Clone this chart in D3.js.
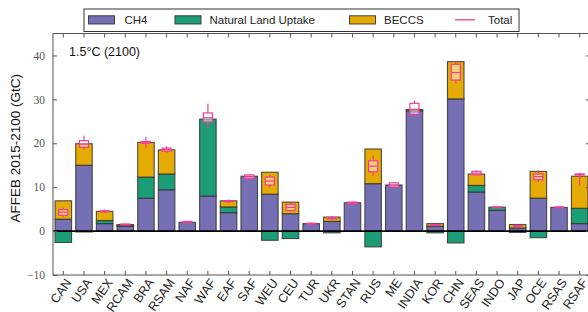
<!DOCTYPE html>
<html>
<head>
<meta charset="utf-8">
<script src="https://cdn.jsdelivr.net/npm/d3@7"></script>
<style>
  body { margin: 0; background: #fff; }
  svg { display: block; }
</style>
</head>
<body>
<div id="chart"></div>
<script>
const regions = ["CAN", "USA", "MEX", "RCAM", "BRA", "RSAM", "NAF", "WAF", "EAF", "SAF", "WEU", "CEU", "TUR",
  "UKR", "STAN", "RUS", "ME", "INDIA", "KOR", "CHN", "SEAS", "INDO", "JAP", "OCE", "RSAS", "RSAF"];
const ch4 = [2.7, 15.0, 1.7, 1.1, 7.5, 9.4, 2.0, 8.0, 4.2, 12.5, 8.4, 3.95, 1.7,
  2.2, 6.45, 10.8, 10.5, 27.4, 1.1, 30.1, 8.9, 4.7, 0.7, 7.5, 5.4, 1.7];
const landUptake = [-2.6, -0.2, 0.7, 0.1, 4.8, 3.6, 0, 17.5, 1.3, 0, -2.1, -1.7, 0,
  -0.4, 0, -3.6, 0, 0, -0.4, -2.7, 1.5, 0.75, -0.3, -1.5, 0, 3.5];
const beccs = [4.2, 4.9, 2.1, 0.3, 7.9, 5.5, 0, 0, 1.4, 0, 5.0, 2.65, 0,
  1.0, 0, 7.9, 0, 0.3, 0.6, 8.5, 2.6, 0, 0.8, 6.1, 0, 7.3];
// Total: spread over runs (median, quartiles, whiskers)
const totalMed = [4.3, 19.8, 4.5, 1.5, 20.2, 18.6, 2.1, 25.8, 6.8, 12.4, 11.4, 5.4, 1.7,
  3.0, 6.4, 14.8, 10.5, 27.7, 1.4, 36.1, 13.2, 5.4, 1.2, 12.4, 5.4, 12.9];
const totalQ1 = [3.6, 19.1, 4.4, 1.4, 20.0, 18.2, 2.0, 24.8, 6.7, 11.9, 10.5, 4.7, 1.6,
  2.8, 6.2, 13.5, 10.0, 26.5, 1.3, 34.4, 12.8, 5.3, 1.1, 11.7, 5.3, 12.8];
const totalQ3 = [4.9, 20.6, 4.6, 1.6, 20.4, 18.9, 2.2, 26.9, 6.9, 12.8, 12.3, 6.1, 1.8,
  3.1, 6.6, 16.0, 11.0, 29.1, 1.5, 38.0, 13.6, 5.5, 1.3, 13.0, 5.5, 13.0];
const totalLo = [3.3, 18.6, 4.2, 1.3, 19.0, 17.9, 1.9, 23.3, 6.4, 11.8, 10.0, 4.5, 1.5,
  2.6, 6.1, 12.6, 9.8, 26.1, 1.2, 33.7, 12.7, 5.2, 1.0, 11.1, 5.2, 10.4];
const totalHi = [5.3, 21.7, 4.9, 1.7, 21.5, 19.3, 2.3, 29.0, 7.2, 13.0, 12.8, 6.4, 1.9,
  3.3, 6.7, 17.2, 11.2, 29.7, 1.6, 38.6, 13.8, 5.7, 1.4, 13.8, 5.6, 13.3];
const yTicks = [-10, 0, 10, 20, 30, 40];

const W = 588, H = 312;
const mLeft = 53, mRight = 590, mTop = 33.5, mBottom = 275;
const colors = { ch4: "#7570b3", land: "#1b9e77", beccs: "#e6ab02" };
const pink = "#f03d96";

const svg = d3.select("#chart").append("svg").attr("width", W).attr("height", H)
  .style("font-family", "'Liberation Sans', Arial, sans-serif");

const x = d3.scaleBand().domain(regions).range([mLeft, mRight]).paddingInner(0.2).paddingOuter(0.1);
const y = d3.scaleLinear().domain([-10, 45]).range([mBottom, mTop]);

const rows = regions.map((r, i) => ({ region: r, ch4: ch4[i], land: landUptake[i], beccs: beccs[i] }));
const series = d3.stack().keys(["ch4", "land", "beccs"]).offset(d3.stackOffsetDiverging)(rows);

// bars
svg.append("g").selectAll("g").data(series).join("g")
  .attr("fill", (s) => colors[s.key])
  .selectAll("rect")
  .data((s) => s.filter((d) => d[1] !== d[0]))
  .join("rect")
  .attr("x", (d) => x(d.data.region))
  .attr("width", x.bandwidth())
  .attr("y", (d) => y(Math.max(d[0], d[1])))
  .attr("height", (d) => Math.abs(y(d[0]) - y(d[1])))
  .attr("stroke", "#333")
  .attr("stroke-opacity", 0.85)
  .attr("stroke-width", 1.1);

// zero line
svg.append("line").attr("x1", mLeft).attr("x2", mRight).attr("y1", y(0)).attr("y2", y(0))
  .attr("stroke", "#000").attr("stroke-width", 1.8);

// totals as small box plots
const boxW = x.bandwidth() * 0.55;
const tot = svg.append("g").attr("stroke", pink).attr("stroke-width", 1.2);
regions.forEach((r, i) => {
  const cx = x(r) + x.bandwidth() / 2;
  tot.append("line").attr("x1", cx).attr("x2", cx).attr("y1", y(totalHi[i])).attr("y2", y(totalQ3[i]));
  tot.append("line").attr("x1", cx).attr("x2", cx).attr("y1", y(totalQ1[i])).attr("y2", y(totalLo[i]));
  tot.append("rect").attr("x", cx - boxW / 2).attr("width", boxW)
    .attr("y", y(totalQ3[i])).attr("height", y(totalQ1[i]) - y(totalQ3[i]))
    .attr("fill", "#fff").attr("fill-opacity", 0.45);
  tot.append("line").attr("x1", cx - boxW / 2).attr("x2", cx + boxW / 2)
    .attr("y1", y(totalMed[i])).attr("y2", y(totalMed[i]));
});

// frame and ticks
const axisCol = "#555";
svg.append("rect").attr("x", mLeft).attr("y", mTop).attr("width", mRight - mLeft).attr("height", mBottom - mTop)
  .attr("fill", "none").attr("stroke", axisCol).attr("stroke-width", 1);

const yl = svg.append("g").attr("transform", `translate(${mLeft},0)`)
  .call(d3.axisLeft(y).tickValues(yTicks).tickSizeInner(-4).tickSizeOuter(0).tickPadding(8).tickFormat(d3.format("d")));
yl.select(".domain").remove();
yl.selectAll("line").attr("stroke", axisCol);
yl.selectAll("text").attr("fill", "#555").style("font-family", "'Liberation Serif', 'Times New Roman', serif")
  .style("font-size", "11.5px");

const yr = svg.append("g").attr("transform", `translate(${mRight},0)`)
  .call(d3.axisRight(y).tickValues(yTicks).tickSizeInner(-4).tickSizeOuter(0).tickFormat(""));
yr.select(".domain").remove();
yr.selectAll("line").attr("stroke", axisCol);

const xt = svg.append("g").attr("transform", `translate(0,${mTop})`)
  .call(d3.axisTop(x).tickSizeInner(-4).tickSizeOuter(0).tickFormat(""));
xt.select(".domain").remove();
xt.selectAll("line").attr("stroke", axisCol);

const xb = svg.append("g").attr("transform", `translate(0,${mBottom})`)
  .call(d3.axisBottom(x).tickSizeInner(-4).tickSizeOuter(0).tickFormat(""));
xb.select(".domain").remove();
xb.selectAll("line").attr("stroke", axisCol);

// rotated category labels
svg.append("g").selectAll("text").data(regions).join("text")
  .attr("transform", (d) => `translate(${x(d) + x.bandwidth() / 2 + 5},${mBottom + 5}) rotate(-55)`)
  .attr("text-anchor", "end")
  .attr("dy", "0.35em")
  .attr("fill", "#222")
  .style("font-size", "12.5px")
  .text((d) => d);

// y label and panel title
svg.append("text")
  .attr("transform", `translate(20,${(mTop + mBottom) / 2 - 6}) rotate(-90)`)
  .attr("text-anchor", "middle")
  .attr("fill", "#111")
  .style("font-size", "13.5px")
  .text("AFFEB 2015-2100 (GtC)");

svg.append("text").attr("x", 69).attr("y", 55.5).attr("fill", "#111")
  .style("font-size", "12.5px").text("1.5°C (2100)");

// legend
const lg = svg.append("g");
lg.append("rect").attr("x", 84).attr("y", 9).attr("width", 435).attr("height", 22.5)
  .attr("fill", "#fff").attr("stroke", "#333").attr("stroke-width", 1);
const legendItems = [
  { label: "CH4", key: "ch4", sx: 88.5, tx: 124.5 },
  { label: "Natural Land Uptake", key: "land", sx: 175, tx: 209.5 },
  { label: "BECCS", key: "beccs", sx: 349.5, tx: 384 },
];
legendItems.forEach((it) => {
  lg.append("rect").attr("x", it.sx).attr("y", 15.8).attr("width", 26).attr("height", 8.2)
    .attr("fill", colors[it.key]).attr("stroke", "#333").attr("stroke-width", 0.9);
  lg.append("text").attr("x", it.tx).attr("y", 24.2).attr("fill", "#222")
    .style("font-size", "11.5px").text(it.label);
});
lg.append("line").attr("x1", 455).attr("x2", 475).attr("y1", 19.8).attr("y2", 19.8)
  .attr("stroke", pink).attr("stroke-width", 1.3);
lg.append("text").attr("x", 488).attr("y", 24.2).attr("fill", "#222")
  .style("font-size", "11.5px").text("Total");
</script>
</body>
</html>
